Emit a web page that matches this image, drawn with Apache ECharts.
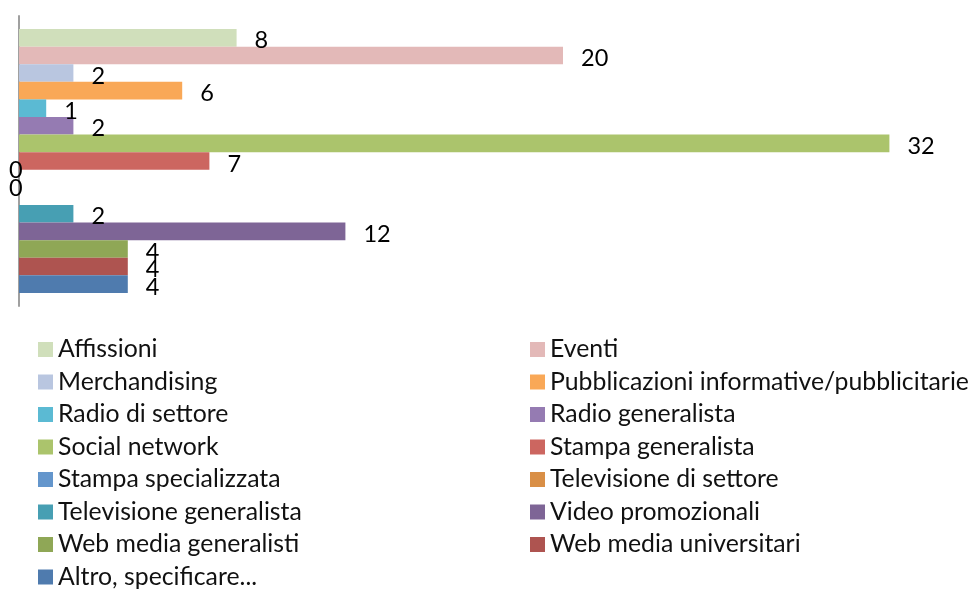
<!DOCTYPE html>
<html>
<head>
<meta charset="utf-8">
<script src="https://cdn.jsdelivr.net/npm/echarts@6/dist/echarts.min.js"></script>
<style>
    html, body { margin: 0; padding: 0; background: #fff; }
    #main { width: 975px; height: 592px; }
</style>
</head>
<body>
<div id="main"></div>
<script>
    var categories = ['Canali'];
    var seriesNames = [
        'Affissioni', 'Eventi', 'Merchandising', 'Pubblicazioni informative/pubblicitarie',
        'Radio di settore', 'Radio generalista', 'Social network', 'Stampa generalista',
        'Stampa specializzata', 'Televisione di settore', 'Televisione generalista',
        'Video promozionali', 'Web media generalisti', 'Web media universitari',
        'Altro, specificare...'
    ];
    var seriesValues = [8, 20, 2, 6, 1, 2, 32, 7, 0, 0, 2, 12, 4, 4, 4];
    var seriesColors = [
        '#d0dfbb', '#e3b9b8', '#b9c6e0', '#f9a857', '#5bbad3', '#957bb2', '#abc46c', '#cc6660',
        '#6496cc', '#d98f46', '#479fb3', '#7e6596', '#8fa756', '#ae5450', '#4f7bae'
    ];

    var font = 'Lato';
    var chart = echarts.init(document.getElementById('main'));

    var series = seriesNames.map(function (name, i) {
        var v = seriesValues[i];
        var item = { value: v };
        if (v === 0) {
            // zero bars: label sits on the axis, a bit higher
            item.label = { distance: -10, offset: [0, -8] };
        }
        return {
            name: name,
            type: 'bar',
            barGap: '0%',
            barCategoryGap: '9%',
            itemStyle: { color: seriesColors[i] },
            label: {
                show: true,
                position: 'right',
                distance: 18,
                offset: [0, 3],
                color: '#000',
                fontFamily: font,
                fontSize: 23.5
            },
            data: [item]
        };
    });

    var leftNames = seriesNames.filter(function (n, i) { return i % 2 === 0; });
    var rightNames = seriesNames.filter(function (n, i) { return i % 2 === 1; });

    function legendCol(left, names) {
        return {
            orient: 'vertical',
            left: left,
            top: 337,
            height: 300,
            padding: 0,
            itemWidth: 15,
            itemHeight: 15,
            itemGap: 7.5,
            icon: 'rect',
            selectedMode: false,
            data: names,
            textStyle: { fontFamily: font, fontSize: 24.8, color: '#111' }
        };
    }

    chart.setOption({
        animation: false,
        grid: { left: 19, top: 16, width: 952, height: 290, containLabel: false },
        legend: [legendCol(38, leftNames), legendCol(530, rightNames)],
        xAxis: {
            type: 'value',
            min: 0,
            max: 35,
            axisLine: { show: false },
            axisTick: { show: false },
            axisLabel: { show: false },
            splitLine: { show: false }
        },
        yAxis: {
            type: 'category',
            data: categories,
            inverse: true,
            axisLine: { show: true, lineStyle: { color: '#a0a0a0', width: 2 } },
            axisTick: { show: false },
            axisLabel: { show: false }
        },
        series: series
    });
</script>
</body>
</html>
